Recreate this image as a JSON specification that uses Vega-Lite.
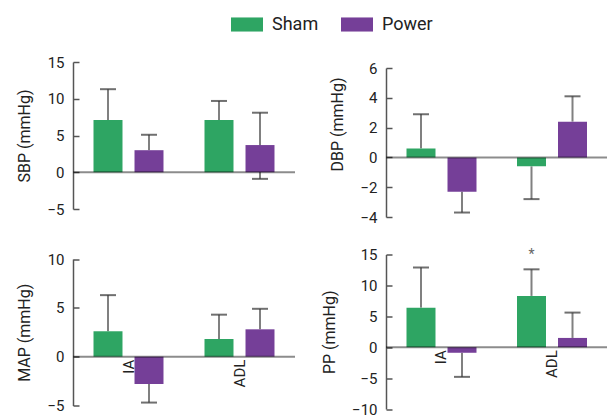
{
  "$schema": "https://vega.github.io/schema/vega-lite/v6.json",
  "padding": {"left": 16, "top": 8, "right": 0, "bottom": 0},
  "datasets": {
    "d": [
      {"panel": "SBP", "group": "IA", "cond": "Sham", "value": 7.1, "start": 7.1, "end": 11.3},
      {"panel": "SBP", "group": "IA", "cond": "Power", "value": 3.0, "start": 3.0, "end": 5.1},
      {"panel": "SBP", "group": "ADL", "cond": "Sham", "value": 7.1, "start": 7.1, "end": 9.7},
      {"panel": "SBP", "group": "ADL", "cond": "Power", "value": 3.7, "start": -0.9, "end": 8.1},
      {"panel": "DBP", "group": "IA", "cond": "Sham", "value": 0.6, "start": 0.6, "end": 2.9},
      {"panel": "DBP", "group": "IA", "cond": "Power", "value": -2.3, "start": -2.3, "end": -3.7},
      {"panel": "DBP", "group": "ADL", "cond": "Sham", "value": -0.6, "start": -0.6, "end": -2.8},
      {"panel": "DBP", "group": "ADL", "cond": "Power", "value": 2.4, "start": 2.4, "end": 4.1},
      {"panel": "MAP", "group": "IA", "cond": "Sham", "value": 2.6, "start": 2.6, "end": 6.3},
      {"panel": "MAP", "group": "IA", "cond": "Power", "value": -2.8, "start": -2.8, "end": -4.7},
      {"panel": "MAP", "group": "ADL", "cond": "Sham", "value": 1.8, "start": 1.8, "end": 4.3},
      {"panel": "MAP", "group": "ADL", "cond": "Power", "value": 2.8, "start": 2.8, "end": 4.9},
      {"panel": "PP", "group": "IA", "cond": "Sham", "value": 6.4, "start": 6.4, "end": 12.9},
      {"panel": "PP", "group": "IA", "cond": "Power", "value": -0.9, "start": -0.9, "end": -4.8},
      {"panel": "PP", "group": "ADL", "cond": "Sham", "value": 8.3, "start": 8.3, "end": 12.6, "sig": "*"},
      {"panel": "PP", "group": "ADL", "cond": "Power", "value": 1.5, "start": 1.5, "end": 5.6}
    ]
  },
  "columns": 2,
  "spacing": {"row": 37.5, "column": 91},
  "bounds": "flush",
  "resolve": {"scale": {"color": "shared"}},
  "concat": [
    {
      "width": 222, "height": 147,
      "data": {"name": "d"},
      "transform": [{"filter": "datum.panel === 'SBP'"}],
      "layer": [
        {"mark": {"type": "rule", "color": "#808080", "strokeWidth": 2},
         "encoding": {
           "x": {"field": "group", "type": "nominal", "sort": ["IA", "ADL"], "axis": null, "scale": {"paddingInner": 0, "paddingOuter": 0}},
           "xOffset": {"field": "cond", "type": "nominal", "sort": ["Sham", "Power"], "scale": {"paddingInner": 0.293, "paddingOuter": 0.5}},
           "y": {"field": "start", "type": "quantitative", "scale": {"domain": [-5, 15], "nice": false, "zero": false}, "axis": {"tickCount": 5, "title": "SBP (mmHg)"}},
           "y2": {"field": "end"}}},
        {"mark": {"type": "bar"},
         "encoding": {
           "x": {"field": "group", "type": "nominal", "sort": ["IA", "ADL"]},
           "xOffset": {"field": "cond", "type": "nominal", "sort": ["Sham", "Power"]},
           "y": {"field": "value", "type": "quantitative"},
           "color": {"field": "cond", "type": "nominal", "scale": {"domain": ["Sham", "Power"], "range": ["#2ea563", "#753f98"]},
             "legend": {"orient": "none", "legendX": 158, "legendY": -53.5, "direction": "horizontal", "title": null, "symbolType": "M-1,-0.44H1V0.44H-1Z", "symbolSize": 1024, "symbolStrokeWidth": 0, "symbolOpacity": 1, "labelFontSize": 18, "labelOffset": 9, "columnPadding": 22, "labelColor": "#222", "padding": 0}}}},
        {"mark": {"type": "tick", "color": "#333", "thickness": 2, "size": 16},
         "encoding": {
           "x": {"field": "group", "type": "nominal", "sort": ["IA", "ADL"]},
           "xOffset": {"field": "cond", "type": "nominal", "sort": ["Sham", "Power"]},
           "y": {"field": "end", "type": "quantitative"}}},
        {"transform": [{"filter": "datum.start !== datum.value"}],
         "mark": {"type": "tick", "color": "#333", "thickness": 2, "size": 16},
         "encoding": {
           "x": {"field": "group", "type": "nominal", "sort": ["IA", "ADL"]},
           "xOffset": {"field": "cond", "type": "nominal", "sort": ["Sham", "Power"]},
           "y": {"field": "start", "type": "quantitative"}}},
        {"data": {"values": [{"zero": 0}]},
         "mark": {"type": "rule", "color": "#000", "opacity": 0.45, "strokeWidth": 2},
         "encoding": {"y": {"field": "zero", "type": "quantitative"}}}
      ]
    },
    {
      "width": 221, "height": 155,
      "data": {"name": "d"},
      "transform": [{"filter": "datum.panel === 'DBP'"}],
      "layer": [
        {"mark": {"type": "rule", "color": "#808080", "strokeWidth": 2},
         "encoding": {
           "x": {"field": "group", "type": "nominal", "sort": ["IA", "ADL"], "axis": null, "scale": {"paddingInner": 0, "paddingOuter": 0}},
           "xOffset": {"field": "cond", "type": "nominal", "sort": ["Sham", "Power"], "scale": {"paddingInner": 0.293, "paddingOuter": 0.5}},
           "y": {"field": "start", "type": "quantitative", "scale": {"domain": [-4, 6], "nice": false, "zero": false, "range": [155, 6]}, "axis": {"tickCount": 6, "title": "DBP (mmHg)", "titleY": 62}},
           "y2": {"field": "end"}}},
        {"mark": {"type": "bar"},
         "encoding": {
           "x": {"field": "group", "type": "nominal", "sort": ["IA", "ADL"]},
           "xOffset": {"field": "cond", "type": "nominal", "sort": ["Sham", "Power"]},
           "y": {"field": "value", "type": "quantitative"},
           "color": {"field": "cond", "type": "nominal"}}},
        {"mark": {"type": "tick", "color": "#333", "thickness": 2, "size": 16},
         "encoding": {
           "x": {"field": "group", "type": "nominal", "sort": ["IA", "ADL"]},
           "xOffset": {"field": "cond", "type": "nominal", "sort": ["Sham", "Power"]},
           "y": {"field": "end", "type": "quantitative"}}},
        {"data": {"values": [{"zero": 0}]},
         "mark": {"type": "rule", "color": "#000", "opacity": 0.45, "strokeWidth": 2},
         "encoding": {"y": {"field": "zero", "type": "quantitative"}}}
      ]
    },
    {
      "width": 222, "height": 151,
      "data": {"name": "d"},
      "transform": [{"filter": "datum.panel === 'MAP'"}],
      "layer": [
        {"mark": {"type": "rule", "color": "#808080", "strokeWidth": 2},
         "encoding": {
           "x": {"field": "group", "type": "nominal", "sort": ["IA", "ADL"], "axis": null, "scale": {"paddingInner": 0, "paddingOuter": 0}},
           "xOffset": {"field": "cond", "type": "nominal", "sort": ["Sham", "Power"], "scale": {"paddingInner": 0.293, "paddingOuter": 0.5}},
           "y": {"field": "start", "type": "quantitative", "scale": {"domain": [-5, 10], "nice": false, "zero": false, "range": [151, 4.5]}, "axis": {"tickCount": 4, "title": "MAP (mmHg)"}},
           "y2": {"field": "end"}}},
        {"mark": {"type": "bar"},
         "encoding": {
           "x": {"field": "group", "type": "nominal", "sort": ["IA", "ADL"]},
           "xOffset": {"field": "cond", "type": "nominal", "sort": ["Sham", "Power"]},
           "y": {"field": "value", "type": "quantitative"},
           "color": {"field": "cond", "type": "nominal"}}},
        {"mark": {"type": "tick", "color": "#333", "thickness": 2, "size": 16},
         "encoding": {
           "x": {"field": "group", "type": "nominal", "sort": ["IA", "ADL"]},
           "xOffset": {"field": "cond", "type": "nominal", "sort": ["Sham", "Power"]},
           "y": {"field": "end", "type": "quantitative"}}},
        {"data": {"values": [{"zero": 0}]},
         "mark": {"type": "rule", "color": "#000", "opacity": 0.45, "strokeWidth": 2},
         "encoding": {"y": {"field": "zero", "type": "quantitative"}}},
        {"transform": [{"filter": "datum.cond === 'Sham'"}],
         "mark": {"type": "text", "angle": 270, "align": "right", "baseline": "middle", "dx": -3, "fontSize": 15, "color": "#222"},
         "encoding": {
           "x": {"field": "group", "type": "nominal", "sort": ["IA", "ADL"]},
           "y": {"datum": 0},
           "text": {"field": "group"}}}
      ]
    },
    {
      "width": 221, "height": 154.5,
      "data": {"name": "d"},
      "transform": [{"filter": "datum.panel === 'PP'"}],
      "layer": [
        {"mark": {"type": "rule", "color": "#808080", "strokeWidth": 2},
         "encoding": {
           "x": {"field": "group", "type": "nominal", "sort": ["IA", "ADL"], "axis": null, "scale": {"paddingInner": 0, "paddingOuter": 0}},
           "xOffset": {"field": "cond", "type": "nominal", "sort": ["Sham", "Power"], "scale": {"paddingInner": 0.293, "paddingOuter": 0.5}},
           "y": {"field": "start", "type": "quantitative", "scale": {"domain": [-10, 15], "nice": false, "zero": false}, "axis": {"tickCount": 6, "title": "PP (mmHg)"}},
           "y2": {"field": "end"}}},
        {"mark": {"type": "bar"},
         "encoding": {
           "x": {"field": "group", "type": "nominal", "sort": ["IA", "ADL"]},
           "xOffset": {"field": "cond", "type": "nominal", "sort": ["Sham", "Power"]},
           "y": {"field": "value", "type": "quantitative"},
           "color": {"field": "cond", "type": "nominal"}}},
        {"mark": {"type": "tick", "color": "#333", "thickness": 2, "size": 16},
         "encoding": {
           "x": {"field": "group", "type": "nominal", "sort": ["IA", "ADL"]},
           "xOffset": {"field": "cond", "type": "nominal", "sort": ["Sham", "Power"]},
           "y": {"field": "end", "type": "quantitative"}}},
        {"data": {"values": [{"zero": 0}]},
         "mark": {"type": "rule", "color": "#000", "opacity": 0.45, "strokeWidth": 2},
         "encoding": {"y": {"field": "zero", "type": "quantitative"}}},
        {"transform": [{"filter": "datum.cond === 'Sham'"}],
         "mark": {"type": "text", "angle": 270, "align": "right", "baseline": "middle", "dx": -3, "fontSize": 15, "color": "#222"},
         "encoding": {
           "x": {"field": "group", "type": "nominal", "sort": ["IA", "ADL"]},
           "y": {"datum": 0},
           "text": {"field": "group"}}},
        {"transform": [{"filter": "datum.sig"}],
         "mark": {"type": "text", "dy": -14, "fontSize": 14, "color": "#666", "baseline": "middle"},
         "encoding": {
           "x": {"field": "group", "type": "nominal", "sort": ["IA", "ADL"]},
           "xOffset": {"field": "cond", "type": "nominal", "sort": ["Sham", "Power"]},
           "y": {"field": "end", "type": "quantitative"},
           "text": {"field": "sig"}}}
      ]
    }
  ],
  "config": {
    "font": "Roboto",
    "view": {"stroke": null},
    "axis": {"labelFontSize": 15, "titleFontSize": 16, "titleFontWeight": "normal", "labelColor": "#222", "titleColor": "#222", "domainColor": "#555", "tickColor": "#555", "domainWidth": 1.5, "tickWidth": 1.5, "tickSize": -6, "labelPadding": 15, "titlePadding": 14, "grid": false, "labelOverlap": false}
  }
}
